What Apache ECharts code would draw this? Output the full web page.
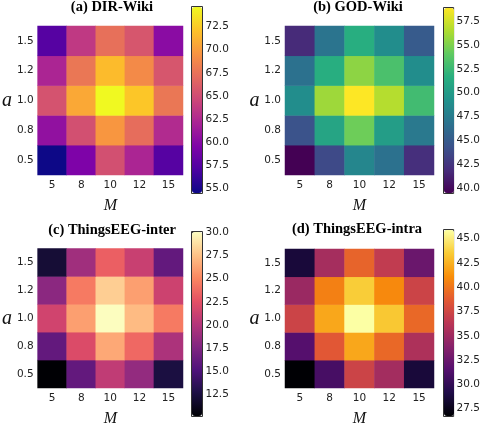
<!DOCTYPE html>
<html>
<head>
<meta charset="utf-8">
<script src="https://cdn.jsdelivr.net/npm/echarts@6/dist/echarts.min.js"></script>
<style>
  html, body { margin: 0; padding: 0; background: #fff; }
  #chart { width: 483px; height: 428px; }
</style>
</head>
<body>
<div id="chart"></div>
<script>
const mLabels = ['5', '8', '10', '12', '15'];
const alphaLabels = ['0.5', '0.8', '1.0', '1.2', '1.5'];

// rows go from alpha = 0.5 (bottom) to alpha = 1.5 (top), columns follow mLabels
const dirWiki = [
  [54.46, 59.5, 65.2, 62.2, 57.5],
  [60.6, 65.2, 69.7, 67.2, 62.6],
  [65.4, 70.7, 74.67, 72.3, 67.8],
  [62.2, 67.8, 71.7, 69.0, 65.6],
  [57.5, 63.6, 67.4, 65.6, 60.2]
];
const godWiki = [
  [39.47, 43.8, 48.3, 46.7, 42.0],
  [44.4, 50.8, 54.5, 50.2, 47.3],
  [48.9, 56.0, 58.9, 56.7, 52.8],
  [46.7, 51.6, 55.5, 53.2, 48.9],
  [41.8, 46.9, 51.6, 48.9, 45.0]
];
const eegInter = [
  [10.14, 16.1, 20.7, 18.5, 12.5],
  [16.1, 22.1, 26.5, 23.7, 19.7],
  [21.5, 26.1, 30.08, 27.3, 24.5],
  [18.1, 24.5, 28.1, 26.1, 21.3],
  [12.1, 19.1, 23.3, 21.1, 16.1]
];
const eegIntra = [
  [26.7, 30.9, 37.3, 35.2, 28.6],
  [31.5, 38.6, 42.1, 39.4, 35.7],
  [37.3, 42.1, 45.93, 43.4, 39.4],
  [34.8, 40.5, 43.6, 40.9, 37.3],
  [28.6, 35.3, 39.2, 36.7, 32.5]
];

// colorbar tick labels
const dirWikiTicks = [55.0, 57.5, 60.0, 62.5, 65.0, 67.5, 70.0, 72.5];
const godWikiTicks = [40.0, 42.5, 45.0, 47.5, 50.0, 52.5, 55.0, 57.5];
const eegInterTicks = [12.5, 15.0, 17.5, 20.0, 22.5, 25.0, 27.5, 30.0];
const eegIntraTicks = [27.5, 30.0, 32.5, 35.0, 37.5, 40.0, 42.5, 45.0];

// matplotlib colormaps
const plasma = ['#0d0887', '#4c02a1', '#7e03a8', '#a92395', '#cc4778', '#e56b5d', '#f89441', '#fdc328', '#f0f921'];
const viridis = ['#440154', '#472d7b', '#3b528b', '#2c728e', '#21918c', '#28ae80', '#5ec962', '#addc30', '#fde725'];
const magma = ['#000004', '#1c1044', '#4f127b', '#812581', '#b5367a', '#e55064', '#fb8761', '#fec287', '#fcfdbf'];
const inferno = ['#000004', '#1f0c48', '#550f6d', '#88226a', '#ba3655', '#e35933', '#f98e09', '#f9cb35', '#fcffa4'];

const panels = [
  { title: '(a) DIR-Wiki', values: dirWiki, ticks: dirWikiTicks, colors: plasma,
    hm: { left: 33, top: 26, width: 150, height: 149 }, cb: { left: 192, top: 7, width: 10, height: 186 },
    titleX: 112, titleY: 0, aGap: 20 },
  { title: '(b) GOD-Wiki', values: godWiki, ticks: godWikiTicks, colors: viridis,
    hm: { left: 285, top: 26, width: 149, height: 149 }, cb: { left: 444, top: 8, width: 10, height: 185 },
    titleX: 358, titleY: 0, aGap: 25 },
  { title: '(c) ThingsEEG-inter', values: eegInter, ticks: eegInterTicks, colors: magma,
    hm: { left: 33, top: 248.5, width: 150, height: 149 }, cb: { left: 192, top: 232, width: 10, height: 184 },
    titleX: 112, titleY: 223, aGap: 21 },
  { title: '(d) ThingsEEG-intra', values: eegIntra, ticks: eegIntraTicks, colors: inferno,
    hm: { left: 285, top: 249, width: 149, height: 149 }, cb: { left: 444, top: 230, width: 10, height: 186 },
    titleX: 357, titleY: 222, aGap: 25 }
];

const tickFont = { fontFamily: 'DejaVu Sans', fontSize: 10.5, color: '#222' };
const mathFont = { fontFamily: 'Liberation Serif', fontStyle: 'italic', color: '#111' };

const option = {
  animation: false,
  grid: [], xAxis: [], yAxis: [], visualMap: [], series: [], graphic: []
};

panels.forEach((p, k) => {
  const flat = [];
  const cells = [];
  p.values.forEach((row, i) => row.forEach((v, j) => { cells.push([j, i, v]); flat.push(v); }));
  const vmin = Math.min(...flat);
  const vmax = Math.max(...flat);
  const g = 2 * k;

  option.grid.push(Object.assign({}, p.hm));
  option.grid.push({
    left: p.cb.left - 0.5, top: p.cb.top - 0.5, width: p.cb.width + 1, height: p.cb.height + 1,
    show: true, borderColor: '#333', borderWidth: 1, backgroundColor: 'transparent'
  });

  option.xAxis.push({
    type: 'category', gridIndex: g, data: mLabels,
    axisLine: { show: false }, axisTick: { show: false }, splitLine: { show: false },
    axisLabel: Object.assign({ margin: 5 }, tickFont),
    name: 'M', nameLocation: 'middle', nameGap: 23,
    nameTextStyle: Object.assign({ fontSize: 16 }, mathFont)
  });
  option.xAxis.push({ type: 'value', gridIndex: g + 1, show: false, min: 0, max: 1 });

  option.yAxis.push({
    type: 'category', gridIndex: g, data: alphaLabels,
    axisLine: { show: false }, axisTick: { show: false }, splitLine: { show: false },
    axisLabel: Object.assign({ margin: 4 }, tickFont),
    name: 'a', nameLocation: 'middle', nameRotate: 0, nameGap: p.aGap,
    nameTextStyle: Object.assign({ fontSize: 20 }, mathFont)
  });
  option.yAxis.push({
    type: 'value', gridIndex: g + 1, position: 'right', min: vmin, max: vmax,
    axisLine: { show: false }, splitLine: { show: false },
    axisTick: { show: true, length: 3.5, lineStyle: { color: '#333' }, customValues: p.ticks },
    axisLabel: Object.assign({ margin: 3, customValues: p.ticks, formatter: v => v.toFixed(1) }, tickFont)
  });

  option.visualMap.push({
    type: 'continuous', seriesIndex: k, min: vmin, max: vmax,
    calculable: false, hoverLink: false, padding: 0,
    left: p.cb.left, top: p.cb.top, itemWidth: p.cb.width, itemHeight: p.cb.height,
    inRange: { color: p.colors }
  });

  option.series.push({
    type: 'heatmap', xAxisIndex: g, yAxisIndex: g, data: cells,
    itemStyle: { borderWidth: 0 }, emphasis: { disabled: true }
  });

  option.graphic.push({
    type: 'text', x: p.titleX, y: p.titleY,
    style: {
      text: p.title, textAlign: 'center', textVerticalAlign: 'top',
      font: 'bold 14.5px "Liberation Serif"', fill: '#000'
    }
  });
});

const chart = echarts.init(document.getElementById('chart'), null, { renderer: 'canvas' });
chart.setOption(option);
</script>
</body>
</html>
